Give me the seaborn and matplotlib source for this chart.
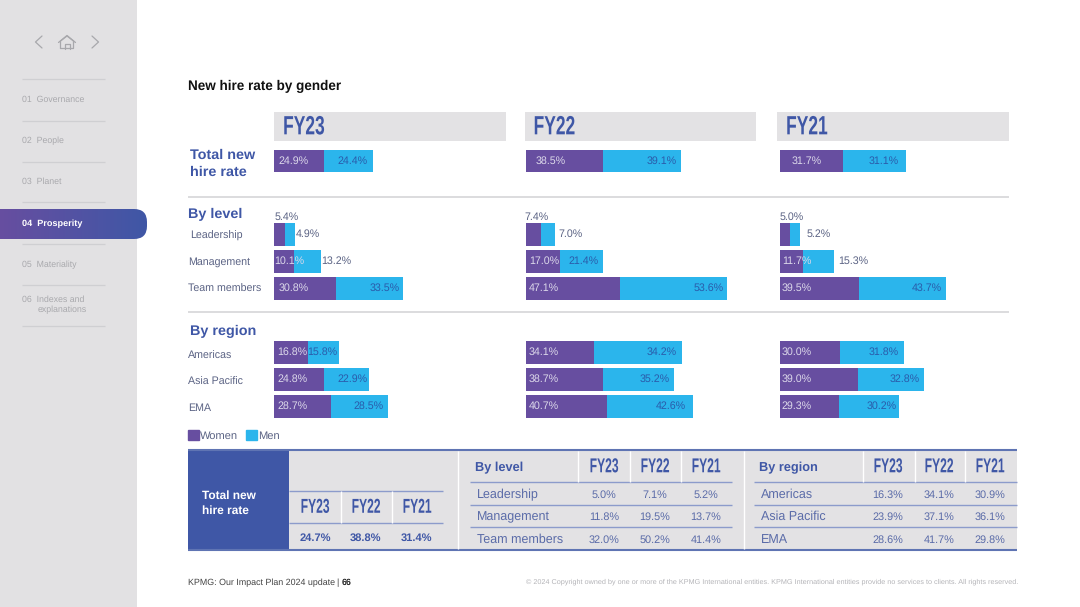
import matplotlib
matplotlib.use("Agg")
import matplotlib.pyplot as plt
from matplotlib.colors import LinearSegmentedColormap
from matplotlib.patches import FancyBboxPatch, Patch, Rectangle
from matplotlib.patheffects import AbstractPathEffect
from matplotlib.transforms import Affine2D
import numpy as np
import pandas as pd
import seaborn as sns

WIDTH, HEIGHT = 1080, 607
PURPLE = "#674ea0"
CYAN = "#2bb5ec"
BLUE = "#3f57a6"
PANEL = "#e3e2e4"
RULE = "#d6d6d8"
GREY_TEXT = "#5b6384"
NAV_TEXT = "#a9a9ad"

years = ["FY23", "FY22", "FY21"]
total_rows = ["Total"]
level_rows = ["Leadership", "Management", "Team members"]
region_rows = ["Americas", "Asia Pacific", "EMA"]
nav_items = ["01  Governance", "02  People", "03  Planet", "04  Prosperity", "05  Materiality", "06  Indexes and"]

total_women = {"FY23": [24.9], "FY22": [38.5], "FY21": [31.7]}
total_men = {"FY23": [24.4], "FY22": [39.1], "FY21": [31.1]}
level_women = {"FY23": [5.4, 10.1, 30.8], "FY22": [7.4, 17.0, 47.1], "FY21": [5.0, 11.7, 39.5]}
level_men = {"FY23": [4.9, 13.2, 33.5], "FY22": [7.0, 21.4, 53.6], "FY21": [5.2, 15.3, 43.7]}
region_women = {"FY23": [16.8, 24.8, 28.7], "FY22": [34.1, 38.7, 40.7], "FY21": [30.0, 39.0, 29.3]}
region_men = {"FY23": [15.8, 22.9, 28.5], "FY22": [34.2, 35.2, 42.6], "FY21": [31.8, 32.8, 30.2]}
# the source draws this one bar longer than its printed 34.2%
region_men_drawn = {"FY23": [15.8, 22.9, 28.5], "FY22": [44.0, 35.2, 42.6], "FY21": [31.8, 32.8, 30.2]}

table_total = ["24.7%", "38.8%", "31.4%"]
table_level = [["5.0%", "7.1%", "5.2%"], ["11.8%", "19.5%", "13.7%"], ["32.0%", "50.2%", "41.4%"]]
table_region = [["16.3%", "34.1%", "30.9%"], ["23.9%", "37.1%", "36.1%"], ["28.6%", "41.7%", "29.8%"]]

# label nudges in pixels: women from the bar start, men from the bar end
bar_left = {"FY23": 274, "FY22": 526, "FY21": 780}
women_dx = {
    ("FY23", "total"): [4.5], ("FY22", "total"): [10], ("FY21", "total"): [12],
    ("FY23", "level"): [0.5, 0, 5], ("FY22", "level"): [-2, 3, 3], ("FY21", "level"): [0, 2, 1.5],
    ("FY23", "region"): [3, 3, 3], ("FY22", "region"): [3, 3, 3], ("FY21", "region"): [1.5, 1.5, 1.5],
}
men_dx = {
    ("FY23", "total"): [-5], ("FY22", "total"): [-4.5], ("FY21", "total"): [-7],
    ("FY23", "level"): [1.5, 1, -3], ("FY22", "level"): [4, -4, -4], ("FY21", "level"): [6, 4.5, -5],
    ("FY23", "region"): [-2, -2, -5], ("FY22", "region"): [-5, -4, -7], ("FY21", "region"): [-5, -3.5, -2],
}

sns.set_theme(style="white")
plt.rcParams["font.family"] = ["Liberation Sans", "DejaVu Sans"]
plt.rcParams["text.hinting"] = "no_hinting"


class Squeeze(AbstractPathEffect):
    # no condensed face is installed, so narrow the glyph outlines of the FY headings
    def __init__(self, scale, centre=False):
        super().__init__()
        self.scale = scale
        self.centre = centre

    def draw_path(self, renderer, gc, tpath, affine, rgbFace=None):
        extents = tpath.get_extents()
        mid = (extents.x0 + extents.x1) / 2 if self.centre else extents.x0
        squeeze = Affine2D().translate(-mid, 0).scale(self.scale, 1).translate(mid, 0)
        renderer.draw_path(gc, tpath, squeeze + affine, rgbFace)


fig = plt.figure(figsize=(WIDTH / 100, HEIGHT / 100), dpi=100, facecolor="white")
page = fig.add_axes([0, 0, 1, 1])
page.set_xlim(0, WIDTH)
page.set_ylim(HEIGHT, 0)
page.axis("off")


def rect(x0, y0, x1, y1, color, **kw):
    page.add_patch(Rectangle((x0, y0), x1 - x0, y1 - y0, facecolor=color, edgecolor="none", **kw))


def hline(y, x0, x1, color=RULE, lw=1.0):
    page.plot([x0, x1], [y, y], color=color, lw=lw, solid_capstyle="butt")


def vline(x, y0, y1, color="white", lw=1.0):
    page.plot([x, x], [y0, y1], color=color, lw=lw, solid_capstyle="butt")


def label(x, y, s, size=7.7, color=GREY_TEXT, weight="normal", ha="left", **kw):
    return page.text(x, y + 0.6, s, fontsize=size, color=color, fontweight=weight, ha=ha, va="center", **kw)


def fy_label(x, y, s, size, squeeze, ha):
    text = label(x, y, s, size=size, color=BLUE, weight="bold", ha=ha)
    text.set_path_effects([Squeeze(squeeze, centre=ha == "center")])


# sidebar
rect(0, 0, 137, HEIGHT, "#e2e1e3")
for y in [79, 120.5, 161.5, 202, 244, 285, 326]:
    hline(y, 22, 105, color="#cfcfd2", lw=0.9)
nav_y = [98.5, 140, 181, 223.5, 264, 299]
for name, y in zip(nav_items, nav_y):
    if "Prosperity" in name:
        continue
    label(22, y, name, size=6.35, color=NAV_TEXT)
label(37.5, 309.5, "explanations", size=6.35, color=NAV_TEXT)

pill = FancyBboxPatch((-30, 209), 177, 30, boxstyle="round,pad=0,rounding_size=13",
                      facecolor="none", edgecolor="none", transform=page.transData)
page.add_patch(pill)
gradient = page.imshow(np.linspace(0, 1, 256).reshape(1, -1), extent=(0, 147, 239, 209), aspect="auto",
                       cmap=LinearSegmentedColormap.from_list("pill", [PURPLE, BLUE]), zorder=2)
gradient.set_clip_path(pill)
page.set_xlim(0, WIDTH)
page.set_ylim(HEIGHT, 0)
page.text(22, 224, "04  Prosperity", fontsize=6.55, color="white", fontweight="bold", va="center", zorder=3)

page.plot([42, 35.5, 42], [36, 42, 48], color="#a8a8ac", lw=0.9)
page.plot([92, 98.5, 92], [36, 42, 48], color="#a8a8ac", lw=0.9)
page.plot([60.5, 60.5, 67, 73.5, 73.5, 60.5], [48.5, 41, 36, 41, 48.5, 48.5], color="#a8a8ac", lw=0.9)
page.plot([58.5, 67, 75.5], [42.5, 35.5, 42.5], color="#a8a8ac", lw=0.9)
page.plot([64.5, 64.5, 69.5, 69.5], [48.5, 43.5, 43.5, 48.5], color="#a8a8ac", lw=0.9)

# headings and rules
label(188, 85.5, "New hire rate by gender", size=9.75, color="#111111", weight="bold")
for year, x0 in zip(years, [274, 524.5, 777]):
    rect(x0, 111.5, x0 + 231.5, 140.5, PANEL)
    fy_label(x0 + 8.5, 127, year, 19, 0.66, "left")
hline(197, 188, 1009, lw=1.2)
hline(312, 188, 1009, lw=1.2)
label(190, 154.5, "Total new", size=10.4, color=BLUE, weight="bold")
label(190, 171.5, "hire rate", size=10.4, color=BLUE, weight="bold")
label(188, 214, "By level", size=10.4, color=BLUE, weight="bold")
label(189.5, 330.5, "By region", size=10.4, color=BLUE, weight="bold")
for name, x, y in zip(level_rows, [190, 188, 188], [235, 261.5, 288]):
    label(x, y, name)
for name, y in zip(region_rows, [355, 381, 408]):
    label(188, y, name)


def draw_group(year, group, rows, women, men, drawn, top, height):
    x0 = bar_left[year]
    ax = fig.add_axes([x0 / WIDTH, 1 - (top + height) / HEIGHT, 230 / WIDTH, height / HEIGHT])
    ax.patch.set_alpha(0)
    df = pd.DataFrame({"row": rows, "women": women, "men": men, "drawn": drawn})
    df["stacked"] = df["women"] + df["drawn"]
    sns.barplot(data=df, y="row", x="stacked", orient="y", color=CYAN, saturation=1, width=0.815,
                linewidth=0, ax=ax)
    sns.barplot(data=df, y="row", x="women", orient="y", color=PURPLE, saturation=1, width=0.815,
                linewidth=0, ax=ax)
    ax.set_xlim(0, 115)
    ax.axis("off")

    for i, row in df.iterrows():
        wdx = women_dx[(year, group)][i]
        above = group == "level" and i == 0
        ax.annotate(f"{row['women']:.1f}%", (0, i), xytext=(wdx, 17.5 if above else 0),
                    textcoords="offset pixels", fontsize=7.7, ha="left", va="center",
                    color=GREY_TEXT if above else "#dcd8ea")
        mdx = men_dx[(year, group)][i]
        outside = mdx > 0
        ax.annotate(f"{row['men']:.1f}%", (row["stacked"], i), xytext=(mdx, 0),
                    textcoords="offset pixels", fontsize=7.7, ha="left" if outside else "right",
                    va="center", color=GREY_TEXT if outside else "#2a5cab")


for year in years:
    draw_group(year, "total", total_rows, total_women[year], total_men[year], total_men[year], 147.5, 27)
    draw_group(year, "level", level_rows, level_women[year], level_men[year], level_men[year], 221, 81)
    draw_group(year, "region", region_rows, region_women[year], region_men[year], region_men_drawn[year], 339, 81)

fig.legend(handles=[Patch(color=PURPLE, label="Women"), Patch(color=CYAN, label="Men")],
           loc="center left", bbox_to_anchor=(188 / WIDTH, 1 - 436 / HEIGHT), ncols=2, frameon=False,
           fontsize=8, handlelength=1.0, handleheight=1.0, handletextpad=0.1, columnspacing=0.7,
           labelcolor=GREY_TEXT, borderpad=0, borderaxespad=0)

# summary table
rect(188, 450, 1017, 550, PANEL)
rect(188, 450, 289, 550, BLUE)
hline(450, 188, 1017, color="#5f74b3", lw=1.5)
hline(550, 188, 1017, color="#5f74b3", lw=1.5)
label(201.5, 495, "Total new", size=8.6, color="white", weight="bold")
label(201.5, 510, "hire rate", size=8.6, color="white", weight="bold")
vline(457.5, 451, 549)
vline(744, 451, 549)
for y in [490.5, 523]:
    hline(y, 289, 443, color="#8c9bcb", lw=1.0)
for x in [340.5, 391.5]:
    vline(x, 491, 523)
for year, value, x in zip(years, table_total, [315, 366, 417]):
    fy_label(x, 507, year, 14.5, 0.6, "center")
    label(x, 537, value, size=8, color=BLUE, weight="bold", ha="center")


def table_block(title, rows, values, x0, x1, cols, seps):
    label(x0 + 5, 467, title, size=9.2, color=BLUE, weight="bold")
    for y in [482, 504.5, 527]:
        hline(y, x0, x1, color="#8c9bcb", lw=1.0)
    for x in seps:
        vline(x, 451, 482)
    for year, x in zip(years, cols):
        fy_label(x, 466.5, year, 14.5, 0.6, "center")
    for name, vals, y in zip(rows, values, [494, 516, 539]):
        label(x0 + 7, y, name, size=9, color="#5a6ba8")
        for value, x in zip(vals, cols):
            label(x, y, value, size=7.8, color="#5a6ba8", ha="center")


table_block("By level", level_rows, table_level, 470, 732, [604, 655, 706], [578, 630, 681])
table_block("By region", region_rows, table_region, 754, 1017, [888, 939, 990], [863, 914.5, 965])

# footer
label(188, 582, "KPMG: Our Impact Plan 2024 update", size=6.4, color="#444444")
label(336, 582, "|", size=6.4, color="#444444")
label(341.5, 582, "66", size=6.4, color="#222222", weight="bold")
label(1018, 581.5, "© 2024 Copyright owned by one or more of the KPMG International entities. "
      "KPMG International entities provide no services to clients. All rights reserved.",
      size=5.25, color="#b4b4b8", ha="right")

fig.savefig("out.png", dpi=100)
